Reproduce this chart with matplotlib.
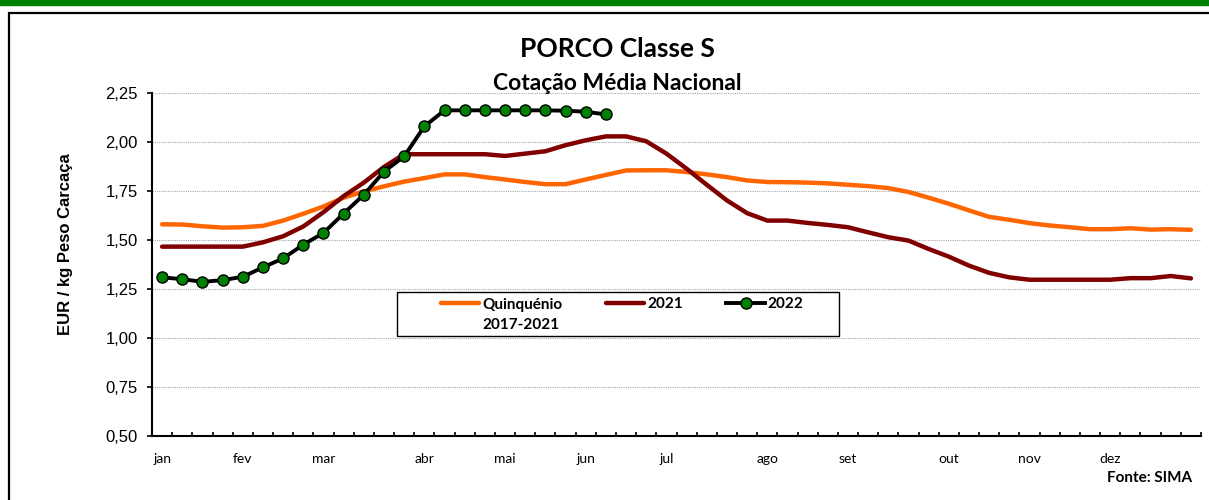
import numpy as np
import matplotlib
matplotlib.use("Agg")
import matplotlib.pyplot as plt
from matplotlib.patches import Rectangle
from matplotlib.lines import Line2D
from matplotlib.ticker import FixedLocator, FuncFormatter

# semanas 1..52
months = ["jan", "fev", "mar", "abr", "mai", "jun", "jul", "ago", "set", "out", "nov", "dez"]
month_week = [0, 4, 8, 13, 17, 21, 25, 30, 34, 39, 43, 47]

quinquenio = [1.581, 1.580, 1.571, 1.564, 1.566, 1.573, 1.600, 1.635, 1.672, 1.717,
              1.749, 1.775, 1.799, 1.817, 1.836, 1.836, 1.822, 1.810, 1.797, 1.786,
              1.786, 1.810, 1.833, 1.856, 1.857, 1.857, 1.848, 1.836, 1.822, 1.805,
              1.797, 1.796, 1.794, 1.790, 1.783, 1.776, 1.766, 1.746, 1.717, 1.686,
              1.652, 1.619, 1.604, 1.587, 1.575, 1.566, 1.556, 1.556, 1.561, 1.554,
              1.556, 1.553]
ano2021 = [1.467, 1.467, 1.467, 1.467, 1.467, 1.489, 1.520, 1.570, 1.643, 1.725,
           1.794, 1.874, 1.939, 1.939, 1.939, 1.939, 1.939, 1.930, 1.942, 1.954,
           1.985, 2.010, 2.030, 2.030, 2.005, 1.942, 1.865, 1.783, 1.703, 1.638,
           1.600, 1.600, 1.588, 1.578, 1.566, 1.540, 1.515, 1.498, 1.455, 1.416,
           1.370, 1.333, 1.310, 1.298, 1.298, 1.298, 1.298, 1.298, 1.306, 1.306,
           1.317, 1.305]
ano2022 = [1.310, 1.301, 1.287, 1.296, 1.313, 1.361, 1.407, 1.477, 1.537, 1.636,
           1.732, 1.850, 1.928, 2.081, 2.163, 2.163, 2.163, 2.163, 2.163, 2.163,
           2.161, 2.156, 2.142]

W, H = 1209, 500
fig = plt.figure(figsize=(W/100, H/100), dpi=100)
ax = fig.add_axes([152/W, 1-436/H, (1201-152)/W, (436-93.3)/H])

x = np.arange(len(quinquenio))
ax.plot(x, quinquenio, color="#FF6600", lw=3.2, solid_capstyle="round", label="Quinquénio", zorder=3)
ax.plot(x, ano2021, color="#800000", lw=3.2, solid_capstyle="round", label="2021", zorder=4)
ax.plot(np.arange(len(ano2022)), ano2022, color="black", lw=2.8, marker="o", ms=8,
        mfc="#008000", mec="black", mew=1.0, label="2022", zorder=5)

ax.set_xlim(-0.5, 51.5)
ax.set_ylim(0.5, 2.25)
ax.set_yticks(np.arange(0.5, 2.26, 0.25))
ax.yaxis.set_major_formatter(FuncFormatter(lambda v, p: f"{v:.2f}".replace(".", ",")))
ax.grid(axis="y", color="#A8A8A8", ls=(0, (1, 1)), lw=0.8)
ax.set_axisbelow(True)

ax.set_xticks(month_week)
ax.set_xticklabels(months, fontfamily="Lato", fontsize=10)
ax.xaxis.set_minor_locator(FixedLocator(np.arange(-0.5, 52, 1)))
ax.tick_params(axis="x", which="major", length=0, pad=12)
ax.tick_params(axis="x", which="minor", direction="in", length=3.2, width=1.2)
ax.tick_params(axis="y", direction="out", length=3.6, width=1.2, labelsize=12, pad=6.5)
for t in ax.get_yticklabels():
    t.set_fontfamily("Liberation Sans")

for s in ["top", "right"]:
    ax.spines[s].set_visible(False)
for s in ["left", "bottom"]:
    ax.spines[s].set_linewidth(1.5)

fig.text(65.5/W, 1-244.5/H, "EUR / kg Peso Carcaça", rotation=90, ha="center", va="center",
         fontfamily="Liberation Sans", fontweight="bold", fontsize=12)

# legenda
blank = Line2D([], [], color="none")
handles, labels = ax.get_legend_handles_labels()
handles = [handles[0], blank, handles[1], handles[2]]
labels = ["Quinquénio", "2017-2021", "2021", "2022"]
leg = ax.legend(handles, labels, ncol=3, loc="upper left",
                bbox_to_anchor=((441-152)/1049, (436-297.5)/(436-93.3)),
                frameon=False, prop={"family": "Lato", "weight": "bold", "size": 11},
                handlelength=2.5, handletextpad=0.2, columnspacing=2.85,
                labelspacing=0.4, borderpad=0, borderaxespad=0)
leg.set_zorder(7)
ax.add_patch(Rectangle(((397-152)/1049, (436-336)/(436-93.3)), (839-397)/1049,
                       (336-291.7)/(436-93.3), transform=ax.transAxes,
                       facecolor="white", edgecolor="black", lw=1.0, zorder=6))

fig.text(617.5/W, 1-56.7/H, "PORCO Classe S", ha="center", va="baseline",
         fontfamily="Lato", fontweight="bold", fontsize=19)
fig.text(617.5/W, 1-90/H, "Cotação Média Nacional", ha="center", va="baseline",
         fontfamily="Lato", fontweight="bold", fontsize=16.5)
fig.text(1192/W, 1-478/H, "Fonte: SIMA", ha="right", va="center",
         fontfamily="Lato", fontweight="bold", fontsize=11)

fig.patches.append(Rectangle((0, 1-4.7/H), 1, 0.02, transform=fig.transFigure,
                             color="#008000", zorder=0))
fig.patches.append(Rectangle((9/W, -0.1), 1.2, 1 - 13/H + 0.1, transform=fig.transFigure,
                             fill=False, edgecolor="black", lw=1.6, zorder=0))

fig.savefig("out.png", dpi=100)
